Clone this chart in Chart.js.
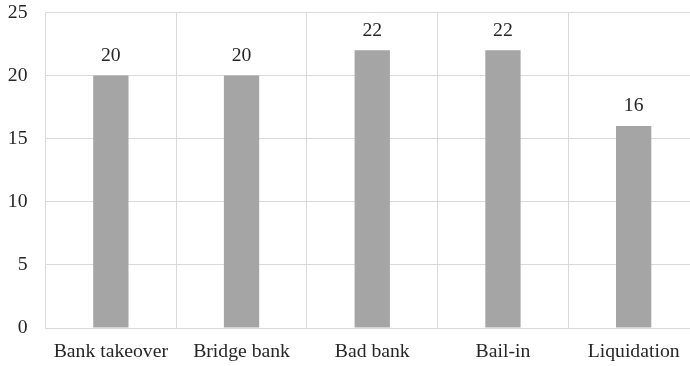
<!DOCTYPE html>
<html>
<head>
<meta charset="utf-8">
<script src="https://cdn.jsdelivr.net/npm/chart.js@4/dist/chart.umd.min.js"></script>
<style>
  html, body { margin: 0; padding: 0; background: #ffffff; overflow: hidden; }
  #wrap { width: 700px; height: 366px; position: relative; }
</style>
</head>
<body>
<div id="wrap"><canvas id="chart"></canvas></div>
<script>
// Resolution tools and how often each is used
const categories = ['Bank takeover', 'Bridge bank', 'Bad bank', 'Bail-in', 'Liquidation'];
const counts = [20, 20, 22, 22, 16];
const yTicks = [0, 5, 10, 15, 20, 25];

const FONT = '"Liberation Serif", "Times New Roman", serif';
const TEXT = '#262626';
const SIZE = 19.7;

// Writes each bar's value above it
const valueLabels = {
  id: 'valueLabels',
  afterDatasetsDraw(chart) {
    const ctx = chart.ctx;
    const meta = chart.getDatasetMeta(0);
    ctx.save();
    ctx.font = SIZE + 'px ' + FONT;
    ctx.fillStyle = TEXT;
    ctx.textAlign = 'center';
    ctx.textBaseline = 'middle';
    meta.data.forEach((bar, i) => {
      ctx.fillText(String(counts[i]), bar.x, bar.y - 20);
    });
    ctx.restore();
  }
};

new Chart(document.getElementById('chart'), {
  type: 'bar',
  data: {
    labels: categories,
    datasets: [{
      data: counts,
      backgroundColor: '#a5a5a5',
      borderWidth: 0,
      barPercentage: 0.54,
      categoryPercentage: 0.5
    }]
  },
  options: {
    responsive: true,
    maintainAspectRatio: false,
    animation: false,
    layout: { padding: { left: 8, right: 1, top: 12.5, bottom: 3 } },
    plugins: { legend: { display: false }, tooltip: { enabled: false } },
    scales: {
      x: {
        grid: { color: '#d9d9d9', lineWidth: 1, offset: true, drawTicks: false },
        border: { color: '#d9d9d9', width: 1 },
        ticks: { color: TEXT, font: { family: FONT, size: SIZE }, padding: 12, maxRotation: 0 },
        afterFit(scale) {
          scale.height = 35;
          scale.paddingLeft = 0;
          scale.paddingRight = 0;
        }
      },
      y: {
        min: 0,
        max: 25,
        afterBuildTicks(scale) { scale.ticks = yTicks.map(v => ({ value: v })); },
        grid: { color: '#d9d9d9', lineWidth: 1, drawTicks: false },
        border: { display: false },
        ticks: { color: TEXT, font: { family: FONT, size: SIZE }, padding: 18 },
        afterFit(scale) {
          scale.width = 37.5;
          scale.paddingTop = 0;
          scale.paddingBottom = 0;
        }
      }
    }
  },
  plugins: [valueLabels]
});
</script>
</body>
</html>
